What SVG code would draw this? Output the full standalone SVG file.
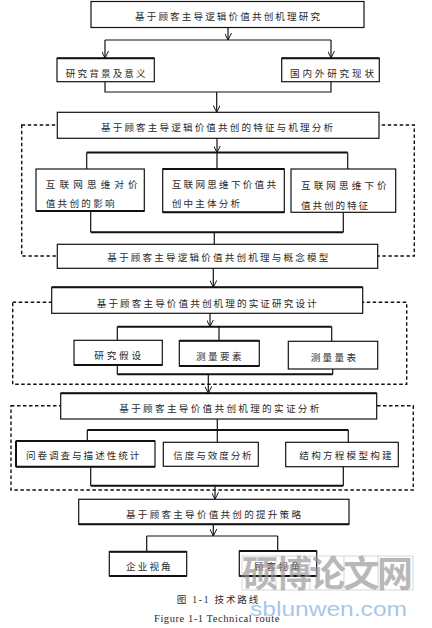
<svg xmlns="http://www.w3.org/2000/svg" width="432" height="628" viewBox="0 0 432 628">
<style>
.box{fill:#fff;stroke:#111;stroke-width:1.2}
.tk{fill:none;stroke:#111;stroke-width:2}
.ln{fill:none;stroke:#111;stroke-width:1.2}
.bl{fill:none;stroke:#111;stroke-width:2}
.ds{fill:none;stroke:#111;stroke-width:1.4;stroke-dasharray:3.5 2.5}
.t{font-family:"Liberation Serif","Noto Sans CJK SC",serif;font-size:9.6px;fill:#2a2a2a}
.wm{font-family:"Noto Sans CJK SC",sans-serif;font-size:36px;font-weight:bold;fill:#999;fill-opacity:0.7}
.wu{font-family:"Liberation Sans","DejaVu Sans",sans-serif;font-size:21px;fill:#8cb8e4;fill-opacity:0.8}
.grid{fill:none;stroke:#c4c4c4;stroke-width:0.7}
</style>
<defs>
<marker id="ar" viewBox="0 0 10 10" refX="10" refY="5" markerWidth="7" markerHeight="7" markerUnits="userSpaceOnUse" orient="auto">
<path d="M0,0 L10,5 L0,10" fill="none" stroke="#111" stroke-width="1.4"/>
</marker>
</defs>

<g id="frames">
<rect class="ds" x="21.7" y="125" width="392.6" height="131"/>
<rect class="ds" x="12.7" y="302.3" width="394" height="82"/>
<rect class="ds" x="11" y="405.7" width="402.3" height="84.3"/>
</g>

<g id="connectors">
<path class="ln" d="M228,27 V40" marker-end="url(#ar)"/>
<path class="ln" d="M105,40 H331"/>
<path class="ln" d="M105,40 V58" marker-end="url(#ar)"/>
<path class="ln" d="M331,40 V58" marker-end="url(#ar)"/>
<path class="ln" d="M105,82 V92 H331 V82"/>
<path class="ln" d="M216.7,92 V112.3" marker-end="url(#ar)"/>
<path class="ln" d="M217,138.3 V152.5" marker-end="url(#ar)"/>
<path class="bl" d="M86.7,152.5 H347.7"/>
<path class="ln" d="M86.7,152.5 V169 M217,152.5 V169 M347.7,152.5 V169"/>
<path class="ln" d="M90.7,211 V232.3 M343.3,212.3 V232.3"/>
<path class="bl" d="M90.7,232.3 H343.3"/>
<path class="ln" d="M214.3,232.3 V244.3"/>
<path class="ln" d="M213.3,268.3 V287.3" marker-end="url(#ar)"/>
<path class="ln" d="M210,313.3 V326.7" marker-end="url(#ar)"/>
<path class="bl" d="M117.3,326.7 H331.7"/>
<path class="ln" d="M117.3,326.7 V340.3 M219,326.7 V340.7 M331.7,326.7 V341.3"/>
<path class="ln" d="M117.3,365 V374.3 M332.7,369 V374.3"/>
<path class="bl" d="M117.3,374.3 H332.7"/>
<path class="ln" d="M208.3,374.3 V393.3" marker-end="url(#ar)"/>
<path class="ln" d="M217.3,419 V430"/>
<path class="bl" d="M87.3,430 H348.3"/>
<path class="ln" d="M87.3,430 V441 M217.3,430 V442.3 M348.3,430 V442.3"/>
<path class="ln" d="M90.7,466.7 V485.7 M343.3,466.7 V485.7"/>
<path class="bl" d="M90.7,485.7 H343.3"/>
<path class="ln" d="M215,485.7 V499.3" marker-end="url(#ar)"/>
<path class="ln" d="M213.3,524.3 V536" marker-end="url(#ar)"/>
<path class="ln" d="M146.7,536 H277.7 M146.7,536 V551.7 M277.7,536 V551"/>
</g>

<g id="n1"><rect class="box" x="91" y="1.5" width="273" height="26"/>
<text class="t" x="135" y="19.5" textLength="185" lengthAdjust="spacing">基于顾客主导逻辑价值共创机理研究</text></g>

<g id="n2"><rect class="box" x="57" y="58.3" width="97.3" height="23.4"/><path class="tk" d="M57,58.3 H154.3"/>
<text class="t" x="65.7" y="76.5" textLength="80" lengthAdjust="spacing">研究背景及意义</text></g>

<g id="n3"><rect class="box" x="281.7" y="58.3" width="97.6" height="23.4"/><path class="tk" d="M281.7,58.3 H379.3"/>
<text class="t" x="290" y="76.5" textLength="84" lengthAdjust="spacing">国内外研究现状</text></g>

<g id="n4"><rect class="box" x="57.3" y="112.3" width="321.7" height="26"/>
<text class="t" x="101" y="130.5" textLength="232" lengthAdjust="spacing">基于顾客主导逻辑价值共创的特征与机理分析</text></g>

<g id="n5"><rect class="box" x="36" y="169" width="108.3" height="42"/><path class="tk" d="M36,211 H144.3"/>
<text class="t" x="45.7" y="188" textLength="92" lengthAdjust="spacing">互联网思维对价</text>
<text class="t" x="45.7" y="207" textLength="69" lengthAdjust="spacing">值共创的影响</text></g>

<g id="n6"><rect class="box" x="162.7" y="169" width="121.6" height="43.3"/><path class="tk" d="M162.7,169 H284.3 M162.7,212.3 H284.3"/>
<text class="t" x="171.7" y="188" textLength="104.3" lengthAdjust="spacing">互联网思维下价值共</text>
<text class="t" x="171.7" y="207" textLength="68.3" lengthAdjust="spacing">创中主体分析</text></g>

<g id="n7"><rect class="box" x="291" y="169" width="104.7" height="43.3"/>
<text class="t" x="301" y="189" textLength="85.7" lengthAdjust="spacing">互联网思维下价</text>
<text class="t" x="301" y="208.5" textLength="67" lengthAdjust="spacing">值共创的特征</text></g>

<g id="n8"><rect class="box" x="57.3" y="244.3" width="320.4" height="24"/>
<text class="t" x="107.3" y="261" textLength="221" lengthAdjust="spacing">基于顾客主导逻辑价值共创机理与概念模型</text></g>

<g id="n9"><rect class="box" x="51.7" y="287.3" width="311" height="26"/><path class="tk" d="M51.7,287.3 H362.7"/>
<text class="t" x="96.7" y="306.5" textLength="220" lengthAdjust="spacing">基于顾客主导价值共创机理的实证研究设计</text></g>

<g id="n10"><rect class="box" x="74" y="340.3" width="88.3" height="24.7"/><path class="tk" d="M74,365 H162.3"/>
<text class="t" x="94.3" y="358.7" textLength="46.7" lengthAdjust="spacing">研究假设</text></g>

<g id="n11"><rect class="box" x="179.3" y="340.7" width="80" height="25.3"/><path class="tk" d="M179.3,340.7 H259.3 M179.3,366 H259.3"/>
<text class="t" x="196" y="359.5" textLength="45.7" lengthAdjust="spacing">测量要素</text></g>

<g id="n12"><rect class="box" x="288.3" y="341.3" width="89.4" height="27.7"/>
<text class="t" x="310.7" y="360.5" textLength="45.3" lengthAdjust="spacing">测量量表</text></g>

<g id="n13"><rect class="box" x="60.7" y="393.3" width="316" height="25.7"/><path class="tk" d="M60.7,393.3 H376.7"/>
<text class="t" x="119.3" y="412" textLength="200" lengthAdjust="spacing">基于顾客主导价值共创机理的实证分析</text></g>

<g id="n14"><rect class="box" x="16" y="441" width="139" height="25.7"/><path class="tk" d="M16,441 H155 M16,466.7 H155 M16,441 V466.7"/>
<text class="t" x="26" y="458.7" textLength="113.3" lengthAdjust="spacing">问卷调查与描述性统计</text></g>

<g id="n15"><rect class="box" x="163.3" y="442.3" width="95" height="24"/>
<text class="t" x="173.3" y="458.7" textLength="78.4" lengthAdjust="spacing">信度与效度分析</text></g>

<g id="n16"><rect class="box" x="285.7" y="442.3" width="112.6" height="24.4"/>
<text class="t" x="299.3" y="458.7" textLength="92.4" lengthAdjust="spacing">结构方程模型构建</text></g>

<g id="n17"><rect class="box" x="78.7" y="499.3" width="270.3" height="25"/><path class="tk" d="M78.7,524.3 H349"/>
<text class="t" x="126" y="517.7" textLength="175" lengthAdjust="spacing">基于顾客主导价值共创的提升策略</text></g>

<g id="n18"><rect class="box" x="109.3" y="551.7" width="77.4" height="24.3"/><path class="tk" d="M109.3,551.7 H186.7 M109.3,576 H186.7"/>
<text class="t" x="126" y="569.7" textLength="44.7" lengthAdjust="spacing">企业视角</text></g>

<g id="n19"><rect class="box" x="239.3" y="551" width="77.4" height="25"/><path class="tk" d="M239.3,551 H316.7 M239.3,576 H316.7"/>
<text class="t" x="254" y="569.7" textLength="46" lengthAdjust="spacing">顾客视角</text></g>

<g id="caption">
<text class="t" x="176.7" y="603.3" textLength="81.6" lengthAdjust="spacing">图 1-1  技术路线</text>
<text class="t" x="154" y="621.5" textLength="125.3" lengthAdjust="spacing" style="font-size:10.5px">Figure 1-1 Technical route</text>
</g>

<g id="watermark">
<path class="grid" d="M242,556 H413 M242,590 H413 M242,556 V590 M276,556 V590 M310,556 V590 M344,556 V590 M378,556 V590 M413,556 V590"/>
<text class="wm" x="242" y="587" textLength="171" lengthAdjust="spacing">硕博论文网</text>
<text class="wu" x="250" y="616" textLength="157" lengthAdjust="spacingAndGlyphs">sblunwen.com</text>
</g>
</svg>
